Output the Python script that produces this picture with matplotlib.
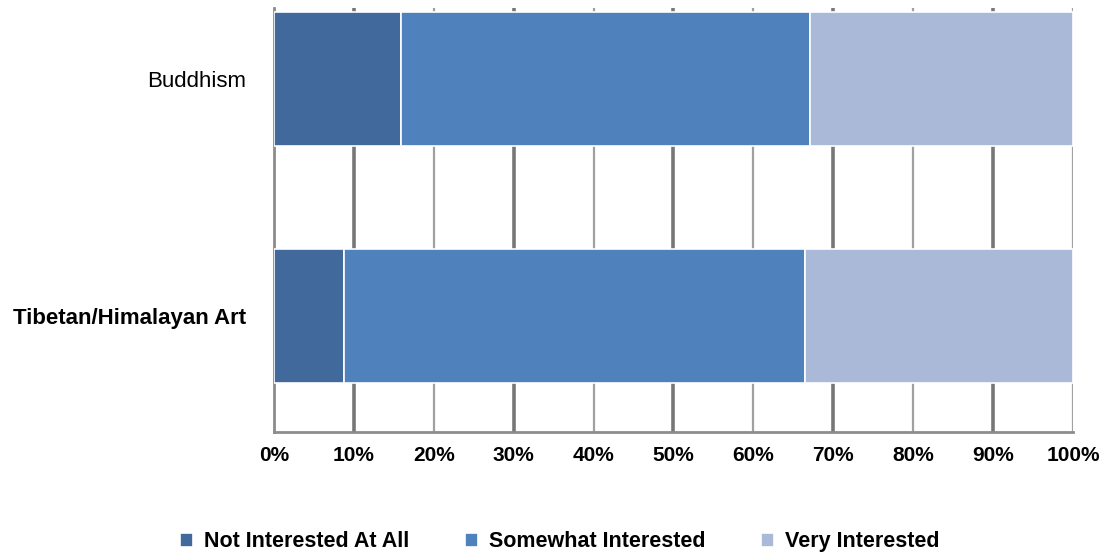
import matplotlib.pyplot as plt
import numpy as np

# --- data (percent of respondents) ---
categories = ["Tibetan/Himalayan Art", "Buddhism"]
not_interested = [8.8, 15.9]
somewhat_interested = [57.7, 51.2]
very_interested = [33.5, 32.9]
series_labels = ["Not Interested At All", "Somewhat Interested", "Very Interested"]
x_ticks = list(range(0, 101, 10))
x_tick_labels = [f"{t}%" for t in x_ticks]

colors = ["#41699B", "#4F81BD", "#AAB9D7"]

plt.rcParams['font.family'] = ['Liberation Sans', 'DejaVu Sans']

fig = plt.figure(figsize=(11.09, 5.54), dpi=100)
ax = fig.add_axes([0.247, 0.22, 0.7205, 0.7656])

y = np.arange(len(categories))
left = np.zeros(len(categories))
for vals, lab, col in zip([not_interested, somewhat_interested, very_interested], series_labels, colors):
    ax.barh(y, vals, left=left, height=0.565, color=col, edgecolor="white",
            linewidth=1.2, label=lab, zorder=3)
    left += np.array(vals)

# gridlines, alternating heavy/light like the original rendering
for i, t in enumerate(x_ticks):
    heavy = i % 2 == 1
    ax.axvline(t, color="#777777" if heavy else "#A0A0A0",
               linewidth=2.6 if heavy else 1.6, zorder=1)

ax.set_xlim(0, 100)
ax.set_ylim(-0.49, 1.30)
ax.set_xticks(x_ticks)
ax.set_xticklabels(x_tick_labels, fontsize=15, fontweight="bold")
ax.set_yticks(y)
ax.set_yticklabels(categories, fontsize=16)
ax.get_yticklabels()[0].set_fontweight("bold")
ax.tick_params(axis="x", length=0, pad=10)
ax.tick_params(axis="y", length=0, pad=20)

for side in ["top", "right"]:
    ax.spines[side].set_visible(False)
for side in ["left", "bottom"]:
    ax.spines[side].set_color("#8C8C8C")
    ax.spines[side].set_linewidth(2)

fig.legend(loc="lower center", bbox_to_anchor=(0.505, -0.032), ncol=3, frameon=False,
           prop={"size": 15.5, "weight": "bold"}, handlelength=0.6, handleheight=0.6,
           handletextpad=0.5, columnspacing=2.6)

plt.savefig("out.png", dpi=100)
